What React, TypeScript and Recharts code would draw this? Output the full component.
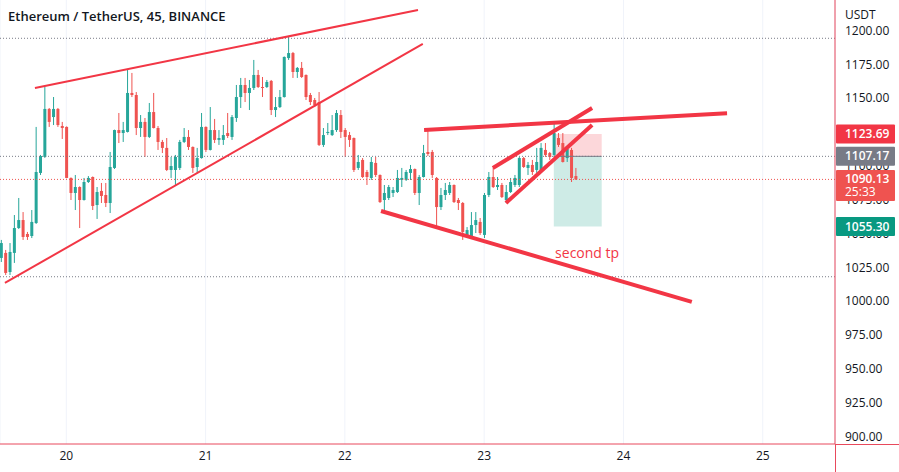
import React from "react";
import {
  ComposedChart,
  Bar,
  XAxis,
  YAxis,
  CartesianGrid,
  ReferenceLine,
  ReferenceArea,
  ReferenceDot,
} from "recharts";

/** 45m ETH/USDT candles (index 0 = first visible candle) */
const opens = [
  1032.1, 1035.8, 1021.7, 1035.8, 1054.2, 1060.1, 1049.8, 1048.3, 1057.9, 1094.9,
  1106.7, 1142.2, 1136.2, 1142.2, 1129.6, 1128.9, 1091.2, 1080.1, 1084.5, 1074.9,
  1088.2, 1091.9, 1071.2, 1081.6, 1078.6, 1072.7, 1098.6, 1126.6, 1124.4, 1125.2,
  1154.0, 1152.5, 1128.1, 1132.6, 1121.5, 1139.9, 1128.1, 1117.8, 1113.4, 1097.1,
  1097.1, 1098.6, 1117.8, 1121.5, 1114.1, 1099.3, 1105.9, 1128.9, 1111.9, 1126.6,
  1119.3, 1119.3, 1124.4, 1121.5, 1135.5, 1151.0, 1159.9, 1154.0, 1157.7, 1167.3,
  1158.4, 1158.4, 1162.9, 1141.4, 1143.6, 1151.0, 1179.8, 1183.5, 1169.5, 1172.5,
  1167.3, 1152.5, 1148.8, 1147.3, 1115.6, 1124.4, 1122.9, 1126.6, 1137.7, 1126.6,
  1122.9, 1120.7, 1098.6, 1104.5, 1095.6, 1091.2, 1102.3, 1093.4, 1074.9, 1076.4,
  1080.1, 1080.8, 1089.7, 1089.7, 1094.9, 1097.8, 1080.1, 1091.9, 1110.4, 1110.4,
  1091.2, 1069.7, 1078.6, 1080.1, 1086.0, 1074.9, 1072.7, 1047.6, 1047.6, 1056.4,
  1058.7, 1049.1, 1078.6, 1091.9, 1084.5, 1086.0, 1074.9, 1080.8, 1086.0, 1086.0,
  1105.9, 1098.6, 1100.8, 1097.1, 1095.6, 1111.9, 1109.6, 1108.2, 1120.7, 1117.0,
  1105.9, 1111.9, 1092.6,
];
const highs = [
  1045.4, 1038.0, 1043.1, 1063.8, 1076.4, 1066.0, 1051.3, 1067.5, 1128.9, 1108.2,
  1158.4, 1142.9, 1151.0, 1142.9, 1132.6, 1129.3, 1091.6, 1093.4, 1085.0, 1091.2,
  1092.6, 1092.3, 1084.5, 1087.5, 1087.5, 1110.4, 1126.9, 1139.2, 1132.6, 1171.0,
  1168.8, 1154.7, 1137.7, 1135.5, 1146.6, 1154.0, 1129.6, 1119.3, 1120.7, 1106.7,
  1108.2, 1119.3, 1128.1, 1126.6, 1114.5, 1113.4, 1139.2, 1129.3, 1143.6, 1134.8,
  1126.6, 1130.3, 1139.2, 1137.7, 1159.9, 1165.1, 1165.1, 1163.6, 1178.4, 1171.0,
  1165.8, 1163.6, 1163.6, 1151.0, 1156.2, 1181.0, 1195.4, 1184.3, 1173.2, 1176.9,
  1167.7, 1154.0, 1150.3, 1154.7, 1128.1, 1131.8, 1137.7, 1141.4, 1141.4, 1128.1,
  1125.2, 1121.1, 1108.2, 1105.9, 1097.1, 1106.7, 1106.7, 1093.8, 1086.0, 1086.0,
  1084.5, 1097.1, 1098.6, 1097.1, 1100.8, 1098.2, 1093.4, 1115.6, 1126.6, 1111.9,
  1091.9, 1083.8, 1087.5, 1088.2, 1086.4, 1076.4, 1073.4, 1054.9, 1066.0, 1066.0,
  1061.6, 1080.1, 1095.6, 1098.6, 1091.9, 1087.5, 1086.0, 1091.2, 1093.4, 1106.7,
  1106.7, 1103.0, 1104.5, 1113.4, 1117.0, 1117.0, 1110.4, 1131.8, 1124.4, 1124.4,
  1114.1, 1113.4, 1098.6,
];
const lows = [
  1029.1, 1019.5, 1019.5, 1028.4, 1053.5, 1045.4, 1045.4, 1046.8, 1057.2, 1093.4,
  1106.0, 1128.9, 1130.3, 1128.9, 1120.0, 1091.0, 1074.9, 1067.5, 1054.2, 1074.5,
  1087.5, 1067.5, 1060.9, 1072.7, 1069.7, 1065.3, 1097.8, 1117.0, 1117.8, 1124.8,
  1151.0, 1122.9, 1121.5, 1106.7, 1120.7, 1127.8, 1111.9, 1109.6, 1096.3, 1091.2,
  1086.0, 1097.1, 1117.0, 1111.9, 1094.9, 1094.9, 1105.5, 1110.4, 1111.5, 1117.0,
  1115.6, 1115.6, 1120.7, 1119.3, 1132.6, 1142.9, 1147.3, 1141.4, 1156.2, 1157.7,
  1151.0, 1157.7, 1137.7, 1136.2, 1142.9, 1150.6, 1178.4, 1165.1, 1165.1, 1165.1,
  1148.8, 1145.1, 1143.6, 1114.8, 1114.1, 1122.9, 1122.2, 1125.2, 1120.7, 1106.7,
  1114.1, 1095.6, 1097.1, 1091.2, 1086.0, 1089.7, 1091.9, 1072.7, 1066.0, 1074.9,
  1077.1, 1080.1, 1084.5, 1089.0, 1089.7, 1078.6, 1071.2, 1091.5, 1107.4, 1091.2,
  1054.9, 1067.5, 1074.9, 1078.6, 1072.7, 1067.5, 1045.4, 1046.8, 1046.8, 1050.5,
  1049.1, 1046.8, 1077.1, 1083.8, 1082.3, 1076.4, 1072.7, 1080.1, 1084.5, 1084.5,
  1098.6, 1093.4, 1093.4, 1094.9, 1094.9, 1106.7, 1104.5, 1106.7, 1114.1, 1102.6,
  1103.0, 1088.2, 1089.7,
];
const closes = [
  1043.1, 1021.0, 1036.5, 1054.2, 1060.1, 1047.6, 1047.6, 1058.7, 1095.6, 1107.4,
  1142.2, 1132.6, 1142.2, 1130.3, 1128.1, 1091.2, 1080.1, 1084.5, 1074.9, 1088.2,
  1091.2, 1070.5, 1080.8, 1077.9, 1072.7, 1099.3, 1126.6, 1124.4, 1126.6, 1154.0,
  1152.5, 1128.1, 1132.6, 1121.5, 1139.9, 1128.1, 1117.8, 1113.4, 1097.1, 1100.0,
  1106.7, 1117.8, 1121.5, 1114.1, 1098.6, 1105.9, 1128.9, 1111.9, 1126.6, 1119.3,
  1120.7, 1122.9, 1122.2, 1136.2, 1151.0, 1159.9, 1154.0, 1157.7, 1167.3, 1158.4,
  1157.7, 1162.1, 1141.4, 1143.6, 1151.0, 1180.6, 1183.5, 1169.5, 1172.5, 1165.8,
  1151.0, 1147.3, 1145.1, 1115.6, 1122.9, 1125.2, 1126.6, 1139.2, 1125.2, 1121.5,
  1119.3, 1097.1, 1103.0, 1091.9, 1091.9, 1103.0, 1093.4, 1073.4, 1080.1, 1084.5,
  1082.3, 1091.2, 1091.2, 1095.6, 1097.8, 1080.1, 1091.9, 1109.6, 1108.9, 1093.4,
  1069.7, 1078.6, 1082.3, 1086.0, 1073.4, 1072.7, 1051.3, 1052.7, 1056.4, 1060.1,
  1050.5, 1078.6, 1091.9, 1084.5, 1086.0, 1077.1, 1080.8, 1088.2, 1091.2, 1105.9,
  1099.3, 1100.8, 1095.6, 1103.0, 1113.4, 1108.2, 1106.7, 1124.4, 1115.6, 1103.0,
  1112.6, 1091.2, 1090.13,
];

/** Day labels on the time axis, placed at the candle index where the day starts (32 × 45m per day) */
const dayTicks = [15, 47, 79, 111, 143, 175];
const dayLabels = ["20", "21", "22", "23", "24", "25"];

const priceTicks = [900, 925, 950, 975, 1000, 1025, 1050, 1075, 1100, 1125, 1150, 1175, 1200];

/** Hand-drawn trend lines: [candle index, price] endpoints + thickness */
type Trend = { x1: number; y1: number; x2: number; y2: number; w: number };
const trendLines: Trend[] = [
  { x1: 7.8, y1: 1157.7, x2: 95.8, y2: 1215.3, w: 2 }, // wedge top
  { x1: 0.9, y1: 1013.6, x2: 96.9, y2: 1190.2, w: 2 }, // wedge bottom
  { x1: 97.2, y1: 1126.6, x2: 166.8, y2: 1139.1, w: 4 }, // resistance
  { x1: 87.3, y1: 1066.8, x2: 158.7, y2: 999.6, w: 4 }, // falling support
  { x1: 113.0, y1: 1098.6, x2: 135.8, y2: 1142.9, w: 4 }, // flag top
  { x1: 116.0, y1: 1072.7, x2: 135.8, y2: 1130.3, w: 4 }, // flag bottom
];

/** Dotted horizontal levels */
const levels = [1194.4, 1107.17, 1018.2];
const lastPrice = 1090.13;

/** Short position tool */
const posStart = 127;
const posEnd = 138;
const stopPrice = 1123.69;
const entryPrice = 1107.17;
const targetPrice = 1055.3;

const X_MIN = -0.23;
const X_MAX = 191.6;

const UP = "#26a69a";
const DOWN = "#ef5350";
const RED = "#f23645";
const TEAL = "#089981";
const GRAY = "#787b86";
const TEXT = "#131722";
const BORDER = "#e8495c";
const FONT = "'Open Sans', sans-serif";

const candles = opens.map((o, i) => ({
  i,
  open: o,
  high: highs[i],
  low: lows[i],
  close: closes[i],
}));

function Candle(props: any) {
  const { x, y, width, height, payload } = props;
  if (x == null || y == null) return null;
  const { open, close, high, low } = payload;
  const color = close >= open ? UP : DOWN;
  const top = Math.min(y, y + height);
  const h = Math.abs(height);
  const range = high - low || 1;
  const py = (v: number) => top + ((high - v) / range) * h;
  const bTop = py(Math.max(open, close));
  const bBot = py(Math.min(open, close));
  const cx = x + width / 2;
  return (
    <g>
      <line x1={cx} x2={cx} y1={top} y2={top + h} stroke={color} strokeWidth={1} />
      <rect x={x} y={bTop} width={width} height={Math.max(1, bBot - bTop)} fill={color} />
    </g>
  );
}

function PriceTick(props: any) {
  const { x, y, payload } = props;
  return (
    <text x={x} y={y} dy={4} fill={TEXT} fontSize={12} fontFamily={FONT} textAnchor="start">
      {Number(payload.value).toFixed(2)}
    </text>
  );
}

/** Price badge on the right scale */
function badge(bg: string, text: string, sub?: string) {
  return (p: any) => {
    const h = sub ? 31 : 19;
    const top = p.cy - 9.5;
    return (
      <g>
        <rect x={p.cx + 1} y={top} width={59} height={h} fill={bg} rx={1} />
        <text x={p.cx + 10} y={p.cy + 4} fill="#fff" fontSize={12} fontWeight={600} fontFamily={FONT}>
          {text}
        </text>
        {sub && (
          <text x={p.cx + 10} y={p.cy + 17} fill="#fff" fontSize={12} fontFamily={FONT}>
            {sub}
          </text>
        )}
      </g>
    );
  };
}

const badges = [
  { price: stopPrice, bg: RED, text: "1123.69" },
  { price: entryPrice, bg: GRAY, text: "1107.17" },
  { price: lastPrice, bg: DOWN, text: "1090.13", sub: "25:33" },
  { price: targetPrice, bg: TEAL, text: "1055.30" },
];

export default function App() {
  return (
    <div style={{ position: "relative", width: 899, height: 472, background: "#fff" }}>
      <style>{"body{margin:0}"}</style>
      <ComposedChart
        width={899}
        height={472}
        data={candles}
        margin={{ top: 0, right: 0, bottom: 0, left: 0 }}
      >
        <CartesianGrid stroke="#f0f3fa" horizontal={false} />
        <XAxis
          dataKey="i"
          type="number"
          domain={[X_MIN, X_MAX]}
          allowDataOverflow
          ticks={dayTicks}
          tickFormatter={(v: number) => dayLabels[dayTicks.indexOf(v)]}
          height={28}
          tickSize={0}
          tickMargin={7}
          tickLine={false}
          axisLine={{ stroke: BORDER }}
          tick={{ fill: TEXT, fontSize: 12, fontFamily: FONT }}
        />
        <YAxis
          orientation="right"
          type="number"
          domain={[894.6, 1222.7]}
          allowDataOverflow
          ticks={priceTicks}
          width={64}
          tickSize={0}
          tickMargin={10}
          tickLine={false}
          axisLine={{ stroke: BORDER }}
          tick={<PriceTick />}
        />

        {levels.map((v) => (
          <ReferenceLine key={v} y={v} stroke={GRAY} strokeDasharray="1 2" />
        ))}
        <ReferenceLine y={lastPrice} stroke={DOWN} strokeDasharray="1 2" />

        {/* short position: stop zone + target zone */}
        <ReferenceArea
          x1={posStart}
          x2={posEnd}
          y1={entryPrice}
          y2={stopPrice}
          fill={RED}
          fillOpacity={0.2}
          stroke="none"
        />
        <ReferenceArea
          x1={posStart}
          x2={posEnd}
          y1={targetPrice}
          y2={entryPrice}
          fill={TEAL}
          fillOpacity={0.2}
          stroke="none"
        />
        <ReferenceLine
          segment={[
            { x: posStart, y: entryPrice },
            { x: posEnd, y: entryPrice },
          ]}
          stroke={GRAY}
        />

        <Bar
          dataKey={(d: any) => [d.low, d.high]}
          barSize={3}
          shape={<Candle />}
          isAnimationActive={false}
        />

        {trendLines.map((t, k) => (
          <ReferenceLine
            key={k}
            segment={[
              { x: t.x1, y: t.y1 },
              { x: t.x2, y: t.y2 },
            ]}
            stroke={RED}
            strokeWidth={t.w}
            ifOverflow="visible"
          />
        ))}

        <ReferenceDot
          x={127.3}
          y={1035.7}
          r={0}
          ifOverflow="visible"
          shape={(p: any) => (
            <text x={p.cx} y={p.cy + 5} fill={RED} fontSize={14} fontFamily={FONT}>
              second tp
            </text>
          )}
        />

        {/* right scale badges, layered above the axis ticks */}
        {badges.map((b) => (
          <ReferenceDot
            key={b.text}
            x={X_MAX}
            y={b.price}
            r={0}
            ifOverflow="visible"
            zIndex={3000}
            shape={badge(b.bg, b.text, b.sub)}
          />
        ))}
      </ComposedChart>

      {/* axis border continuations */}
      <div style={{ position: "absolute", left: 835, top: 444, width: 64, height: 1, background: BORDER }} />
      <div style={{ position: "absolute", left: 835, top: 444, width: 1, height: 28, background: BORDER }} />

      <div
        style={{
          position: "absolute",
          left: 8,
          top: 7,
          fontFamily: FONT,
          fontSize: 13,
          fontWeight: 600,
          color: TEXT,
        }}
      >
        Ethereum / TetherUS, 45, BINANCE
      </div>
      <div
        style={{
          position: "absolute",
          left: 845,
          top: 6,
          fontFamily: FONT,
          fontSize: 12,
          color: TEXT,
        }}
      >
        USDT
      </div>
    </div>
  );
}
